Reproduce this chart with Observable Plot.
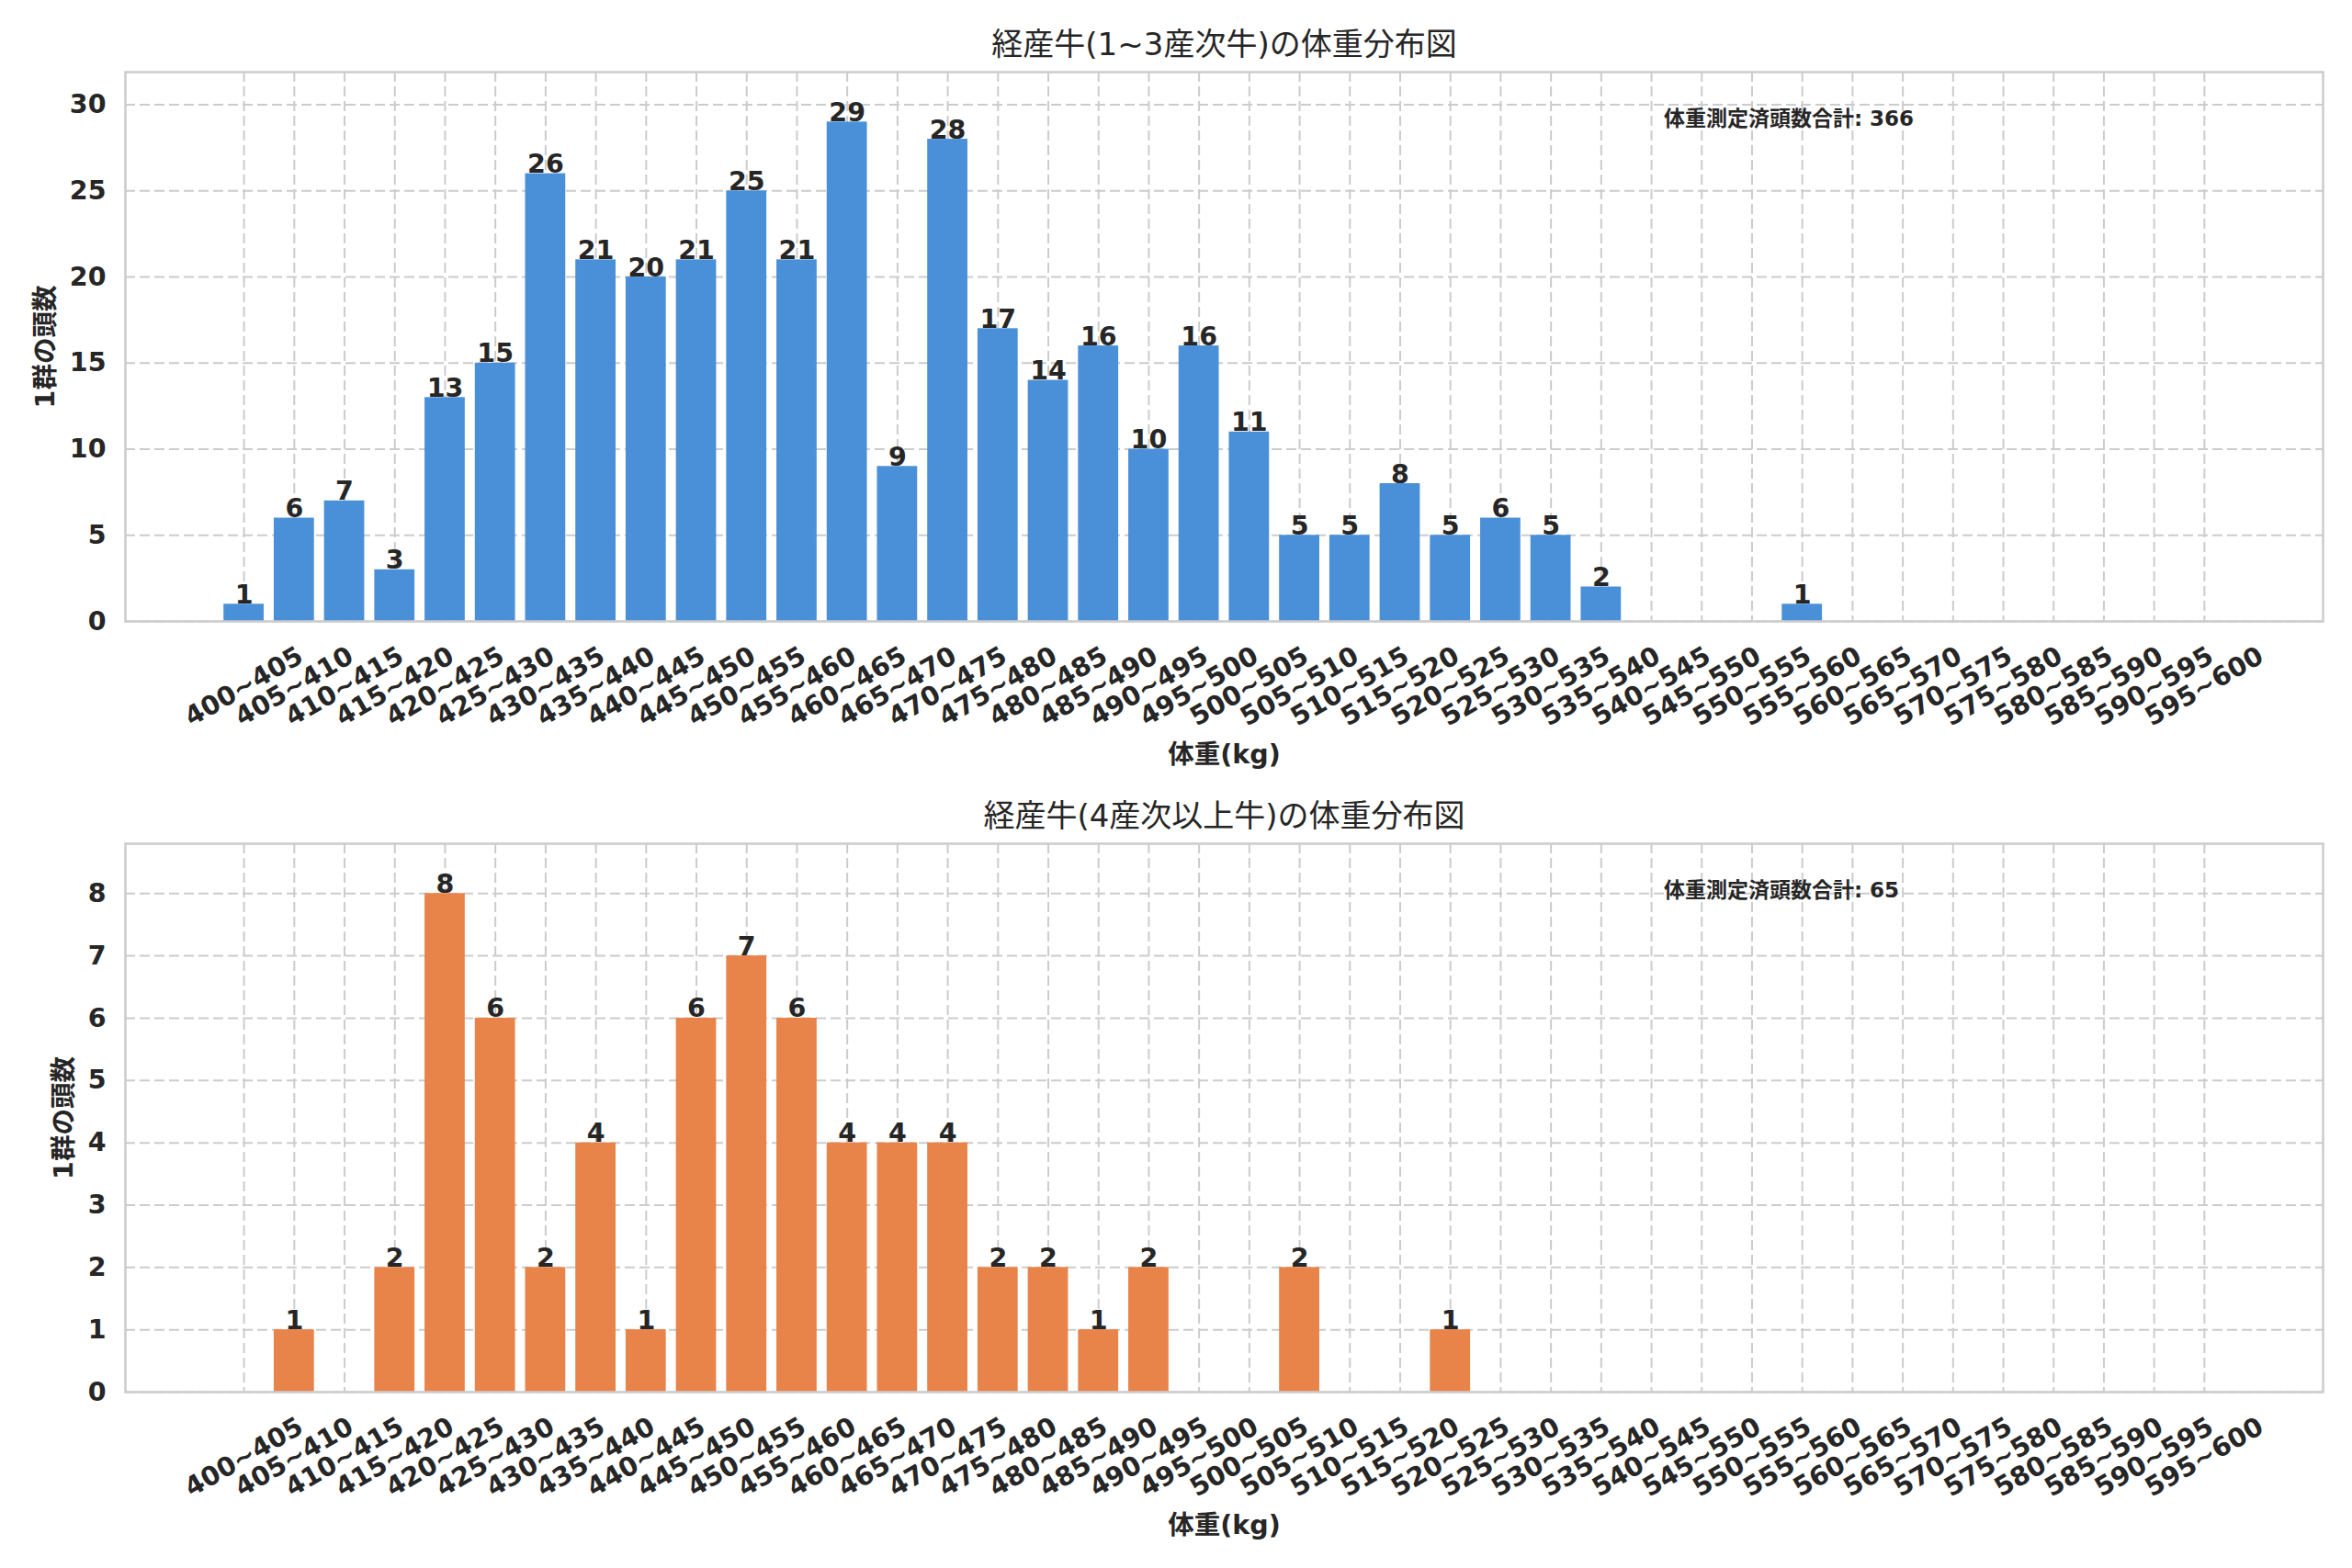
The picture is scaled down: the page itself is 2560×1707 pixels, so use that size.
<!DOCTYPE html>
<html>
<head>
<meta charset="utf-8">
<script src="https://cdn.jsdelivr.net/npm/d3@7"></script>
<script src="https://cdn.jsdelivr.net/npm/@observablehq/plot@0.6"></script>
<style>
  html, body { margin: 0; padding: 0; background: #ffffff; }
  #charts svg { display: block; }
</style>
</head>
<body>
<div id="charts"></div>
<script>
// ---- data ----
const bins = ["400~405","405~410","410~415","415~420","420~425","425~430","430~435","435~440","440~445","445~450",
              "450~455","455~460","460~465","465~470","470~475","475~480","480~485","485~490","490~495","495~500",
              "500~505","505~510","510~515","515~520","520~525","525~530","530~535","535~540","540~545","545~550",
              "550~555","555~560","560~565","565~570","570~575","575~580","580~585","585~590","590~595","595~600"];
const countsYoung = [1,6,7,3,13,15,26,21,20,21,25,21,29,9,28,17,14,16,10,16,11,5,5,8,5,6,5,2,0,0,0,1,0,0,0,0,0,0,0,0];
const countsOld   = [0,1,0,2,8,6,2,4,1,6,7,6,4,4,4,2,2,1,2,0,0,2,0,0,1,0,0,0,0,0,0,0,0,0,0,0,0,0,0,0];
const yTicksYoung = [0,5,10,15,20,25,30];
const yTicksOld   = [0,1,2,3,4,5,6,7,8];
const titles = ["経産牛(1~3産次牛)の体重分布図", "経産牛(4産次以上牛)の体重分布図"];
const yLabel = "1群の頭数";
const xLabel = "体重(kg)";
const totalLabel = "体重測定済頭数合計";
const colors = ["#4a90d9", "#e8834a"];

// ---- drawing ----
const FONT = "'DejaVu Sans', 'Noto Sans CJK JP', sans-serif";
const TEXT = "#262626";
const W = 2560, ML = 136, MR = 32;
const FS = 28.5;

function panel({counts, yTicks, title, color, height, mt, mb, yLabelDx}) {
  const data = bins.map((b, i) => ({bin: b, count: counts[i]}));
  const nonzero = data.filter(d => d.count > 0);
  const total = d3.sum(counts);
  const ymax = d3.max(counts) * 1.1;
  const frameW = W - ML - MR;
  return Plot.plot({
    width: W, height,
    marginLeft: ML, marginRight: MR, marginTop: mt, marginBottom: mb,
    style: {fontFamily: FONT, color: TEXT, background: "#ffffff", overflow: "visible"},
    x: {type: "band", domain: bins, paddingInner: 0.2, paddingOuter: 1.96, align: 0.5, round: false, axis: null},
    y: {domain: [0, ymax], axis: null},
    marks: [
      Plot.gridX(bins, {stroke: "#cccccc", strokeOpacity: 1, strokeWidth: 2, strokeDasharray: "11,5"}),
      Plot.gridY(yTicks, {stroke: "#cccccc", strokeOpacity: 1, strokeWidth: 2, strokeDasharray: "11,5"}),
      Plot.barY(nonzero, {x: "bin", y: "count", fill: color}),
      Plot.text(nonzero, {x: "bin", y: "count", text: d => String(d.count), lineAnchor: "bottom", dy: -1,
        fontSize: FS, fontWeight: "bold", fill: TEXT}),
      Plot.frame({stroke: "#cccccc", strokeWidth: 2.5}),
      Plot.axisY(yTicks, {tickSize: 0, tickPadding: 21, tickFormat: d => String(d), fontSize: FS,
        fontWeight: "bold", fill: TEXT, label: null}),
      Plot.text(bins, {x: d => d, frameAnchor: "bottom", rotate: -30, textAnchor: "middle", lineAnchor: "middle",
        dy: 71, fontSize: FS, fontWeight: "bold", fill: TEXT}),
      Plot.text([xLabel], {frameAnchor: "bottom", dy: 145, lineAnchor: "middle", fontSize: FS, fontWeight: "bold", fill: TEXT}),
      Plot.text([yLabel], {frameAnchor: "left", rotate: -90, dx: yLabelDx, textAnchor: "middle", lineAnchor: "middle",
        fontSize: FS, fontWeight: "bold", fill: TEXT}),
      Plot.text([title], {frameAnchor: "top", dy: -29, lineAnchor: "middle", fontSize: 34, fill: TEXT}),
      Plot.text([`${totalLabel}: ${total}`], {frameAnchor: "top-left", dx: frameW * 0.7, dy: 51, textAnchor: "start",
        lineAnchor: "middle", fontSize: 23, fontWeight: "bold", fill: TEXT})
    ]
  });
}

const root = document.getElementById("charts");
root.appendChild(panel({counts: countsYoung, yTicks: yTicksYoung, title: titles[0], color: colors[0],
  height: 853, mt: 78, mb: 177, yLabelDx: -87}));
root.appendChild(panel({counts: countsOld, yTicks: yTicksOld, title: titles[1], color: colors[1],
  height: 854, mt: 65, mb: 192, yLabelDx: -67}));
</script>
</body>
</html>
